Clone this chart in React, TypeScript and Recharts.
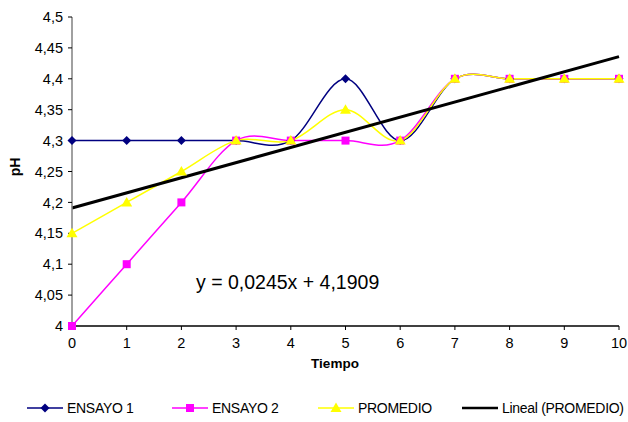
import React from "react";
import { LineChart, Line, XAxis, YAxis } from "recharts";

const tiempo = [0, 1, 2, 3, 4, 5, 6, 7, 8, 9, 10];
const ensayo1 = [4.3, 4.3, 4.3, 4.3, 4.3, 4.4, 4.3, 4.4, 4.4, 4.4, 4.4];
const ensayo2 = [4.0, 4.1, 4.2, 4.3, 4.3, 4.3, 4.3, 4.4, 4.4, 4.4, 4.4];
const promedio = [4.15, 4.2, 4.25, 4.3, 4.3, 4.35, 4.3, 4.4, 4.4, 4.4, 4.4];
// linear trend of PROMEDIO, y = 0,0245x + 4,1909, at both ends
const lineal = [4.1909, null, null, null, null, null, null, null, null, null, 4.4359];
const yTicks = [4, 4.05, 4.1, 4.15, 4.2, 4.25, 4.3, 4.35, 4.4, 4.45, 4.5];

const data = tiempo.map((x, i) => ({
  x,
  e1: ensayo1[i],
  e2: ensayo2[i],
  prom: promedio[i],
  lin: lineal[i],
}));

const FONT = "'Liberation Sans', Arial, sans-serif";

// Excel-like smoothed line (Catmull-Rom through the points)
function excelSmooth(context: any) {
  let pts: number[][] = [];
  return {
    areaStart() {},
    areaEnd() {},
    lineStart() {
      pts = [];
    },
    point(x: number, y: number) {
      pts.push([+x, +y]);
    },
    lineEnd() {
      if (!pts.length) return;
      context.moveTo(pts[0][0], pts[0][1]);
      for (let i = 0; i < pts.length - 1; i++) {
        const p0 = pts[i - 1] || pts[i];
        const p1 = pts[i];
        const p2 = pts[i + 1];
        const p3 = pts[i + 2] || p2;
        context.bezierCurveTo(
          p1[0] + (p2[0] - p0[0]) / 6,
          p1[1] + (p2[1] - p0[1]) / 6,
          p2[0] - (p3[0] - p1[0]) / 6,
          p2[1] - (p3[1] - p1[1]) / 6,
          p2[0],
          p2[1]
        );
      }
    },
  };
}

const Diamond = ({ cx, cy, fill }: any) =>
  cx == null ? null : (
    <path d={`M${cx},${cy - 4.5}L${cx + 4.5},${cy}L${cx},${cy + 4.5}L${cx - 4.5},${cy}Z`} fill={fill} />
  );
const Square = ({ cx, cy, fill }: any) =>
  cx == null ? null : <rect x={cx - 4} y={cy - 4} width={8} height={8} fill={fill} />;
const Triangle = ({ cx, cy, fill }: any) =>
  cx == null ? null : (
    <path d={`M${cx},${cy - 5.5}L${cx + 5.5},${cy + 4}L${cx - 5.5},${cy + 4}Z`} fill={fill} />
  );

const fmt = (v: number) => String(Number(v.toFixed(2))).replace(".", ",");

const legendItems = [
  { label: "ENSAYO 1", color: "#000080", marker: "diamond", x: 27 },
  { label: "ENSAYO 2", color: "#FF00FF", marker: "square", x: 172 },
  { label: "PROMEDIO", color: "#FFFF00", marker: "triangle", x: 318 },
  { label: "Lineal (PROMEDIO)", color: "#000000", marker: "none", x: 462 },
];

const LegendBox = () => (
  <svg width={628} height={24} style={{ position: "absolute", left: 0, top: 396, overflow: "visible" }}>
    {legendItems.map((it) => {
      const cx = it.x + 18;
      return (
        <g key={it.label}>
          <line x1={it.x} x2={it.x + 36} y1={12} y2={12} stroke={it.color} strokeWidth={it.marker === "none" ? 2.5 : 1.5} />
          {it.marker === "diamond" && <Diamond cx={cx} cy={12} fill={it.color} />}
          {it.marker === "square" && <Square cx={cx} cy={12} fill={it.color} />}
          {it.marker === "triangle" && <Triangle cx={cx} cy={12} fill={it.color} />}
          <text x={it.x + 40} y={17} fontSize={14} fontFamily={FONT} fill="#000" letterSpacing={-0.3}>
            {it.label}
          </text>
        </g>
      );
    })}
  </svg>
);

export default function App() {
  return (
    <div style={{ position: "absolute", left: 0, top: 0, width: 628, height: 422, background: "#fff", fontFamily: FONT }}>
      <LineChart width={628} height={422} data={data} margin={{ top: 17, right: 9, bottom: 66, left: 12 }}>
        <XAxis
          dataKey="x"
          type="number"
          domain={[0, 10]}
          ticks={tiempo}
          axisLine={{ stroke: "#000", strokeWidth: 1.5 }}
          tickLine={{ stroke: "#000" }}
          tickSize={4}
          tickMargin={8}
          height={30}
          tick={{ fontSize: 14.5, fill: "#000", fontFamily: FONT }}
        />
        <YAxis
          type="number"
          domain={[4, 4.5]}
          ticks={yTicks}
          tickFormatter={fmt}
          width={60}
          axisLine={{ stroke: "#808080", strokeWidth: 1.5 }}
          tickLine={{ stroke: "#000" }}
          tickSize={4}
          tickMargin={5}
          tick={{ fontSize: 14.5, fill: "#000", fontFamily: FONT }}
        />
        <Line dataKey="e1" type={excelSmooth as any} stroke="#000080" strokeWidth={1.5} dot={<Diamond fill="#000080" />} isAnimationActive={false} />
        <Line dataKey="e2" type={excelSmooth as any} stroke="#FF00FF" strokeWidth={1.5} dot={<Square fill="#FF00FF" />} isAnimationActive={false} />
        <Line dataKey="prom" type={excelSmooth as any} stroke="#FFFF00" strokeWidth={1.5} dot={<Triangle fill="#FFFF00" />} isAnimationActive={false} />
        <Line dataKey="lin" type="linear" connectNulls stroke="#000" strokeWidth={3} dot={false} isAnimationActive={false} />
      </LineChart>
      <LegendBox />
      <div style={{ position: "absolute", left: 196, top: 271, fontSize: 19.5, color: "#000", whiteSpace: "nowrap" }}>
        y = 0,0245x + 4,1909
      </div>
      <div style={{ position: "absolute", left: 335, top: 356, transform: "translateX(-50%)", fontSize: 13.5, fontWeight: "bold", color: "#000" }}>
        Tiempo
      </div>
      <div
        style={{
          position: "absolute",
          left: 15,
          top: 167,
          transform: "translate(-50%, -50%) rotate(-90deg)",
          fontSize: 14,
          fontWeight: "bold",
          color: "#000",
        }}
      >
        pH
      </div>
    </div>
  );
}
